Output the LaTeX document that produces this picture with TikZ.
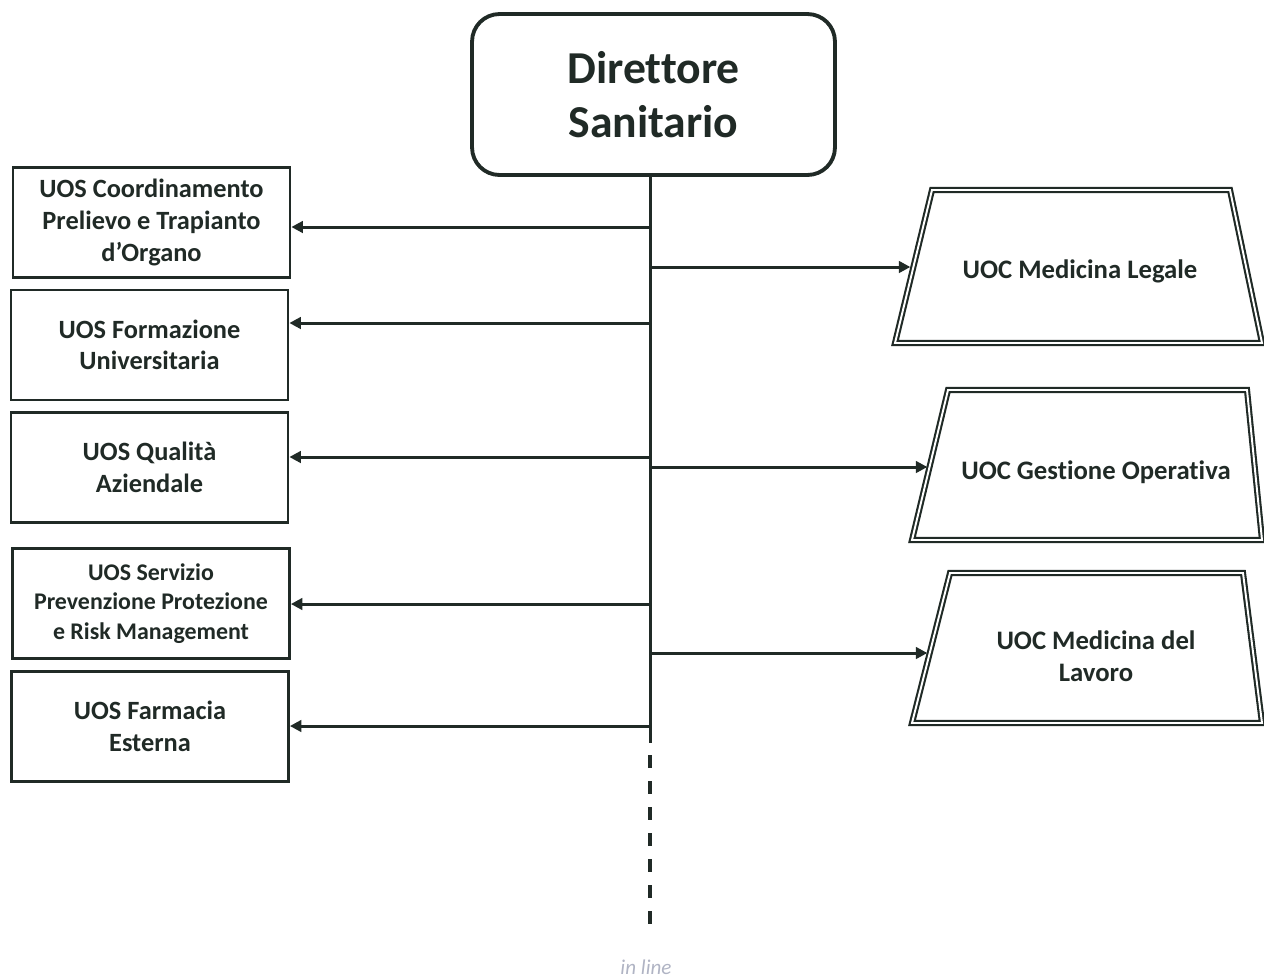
\documentclass[tikz,border=0pt]{standalone}
\usepackage{fontspec}
\setmainfont[Ligatures=NoCommon]{Carlito}
\usetikzlibrary{arrows.meta}
\definecolor{ink}{RGB}{32,42,38}
\definecolor{faint}{RGB}{176,180,196}
\begin{document}
\begin{tikzpicture}[x=0.02cm,y=-0.02cm,
  box/.style={draw=ink, line width=1.6pt, fill=white, minimum width=5.54cm, minimum height=2.2cm,
    align=center, font=\fontsize{15}{18}\selectfont\bfseries, text=ink, inner sep=0pt},
  topbox/.style={draw=ink, line width=2.2pt, rounded corners=0.55cm, minimum width=7.26cm, minimum height=3.22cm,
    align=center, font=\fontsize{26}{30.6}\selectfont\bfseries, text=ink, inner sep=0pt},
  trap/.style={draw=ink, line width=1.2pt, double=white, double distance=1.1pt, line join=miter},
  traptext/.style={align=center, font=\fontsize{15.2}{18}\selectfont\bfseries, text=ink, inner sep=0pt},
  spine/.style={draw=ink, line width=1.7pt},
  arr/.style={draw=ink, line width=1.7pt, -{Triangle[length=6.5pt,width=6.5pt]}},
]
\useasboundingbox (0,0) rectangle (1264,978);

% top box
\node[topbox] (top) at (653.5,94.5) {Direttore\\Sanitario};

% left boxes
\node[box] (b1) at (151.5,222.5) {UOS Coordinamento\\Prelievo e Trapianto\\d’Organo};
\node[box] (b2) at (149.5,345) {UOS Formazione\\Universitaria};
\node[box] (b3) at (149.5,467.5) {UOS Qualità\\Aziendale};
\node[box, font=\fontsize{13.6}{17}\selectfont\bfseries] (b4) at (151,603.5) {UOS Servizio\\Prevenzione Protezione\\e Risk Management};
\node[box] (b5) at (150,726.5) {UOS Farmacia\\Esterna};

% trapezoids
\draw[trap] (932,190) -- (1230,190) -- (1262,343) -- (895,343) -- cycle;
\draw[trap] (948,390) -- (1247,390) -- (1262,540) -- (912,540) -- cycle;
\draw[trap] (950,573) -- (1243,573) -- (1262,723) -- (912,723) -- cycle;
\node[traptext] (r1) at (1080,271) {UOC Medicina Legale};
\node[traptext] (r2) at (1096,472) {UOC Gestione Operativa};
\node[traptext] (r3) at (1096,656) {UOC Medicina del\\Lavoro};
\coordinate (r1w) at (913,267);
\coordinate (r2w) at (930,467);
\coordinate (r3w) at (930,653);

% spine
\coordinate (send) at (650,743);
\coordinate (dstart) at (650,755);
\coordinate (dend) at (650,930);
\draw[spine] (top.south -| send) -- (send);
\draw[draw=ink, line width=2.3pt, dash pattern=on 7.4pt off 7.4pt] (dstart) -- (dend);

% spine points
\coordinate (s1) at (650,227);
\coordinate (s2) at (650,323);
\coordinate (s3) at (650,457);
\coordinate (s4) at (650,604);
\coordinate (s5) at (650,726);
\coordinate (q1) at (650,267);
\coordinate (q2) at (650,467);
\coordinate (q3) at (650,653);

\draw[arr] (s1) -- (s1 -| b1.east);
\draw[arr] (s2) -- (s2 -| b2.east);
\draw[arr] (s3) -- (s3 -| b3.east);
\draw[arr] (s4) -- (s4 -| b4.east);
\draw[arr] (s5) -- (s5 -| b5.east);
\draw[arr, shorten >=1.5pt] (q1) -- (r1w);
\draw[arr, shorten >=1.5pt] (q2) -- (r2w);
\draw[arr, shorten >=1.5pt] (q3) -- (r3w);

\node[font=\fontsize{12}{14}\selectfont\itshape, text=faint, inner sep=0pt] (inl) at (646,967) {in line};
\end{tikzpicture}
\end{document}
